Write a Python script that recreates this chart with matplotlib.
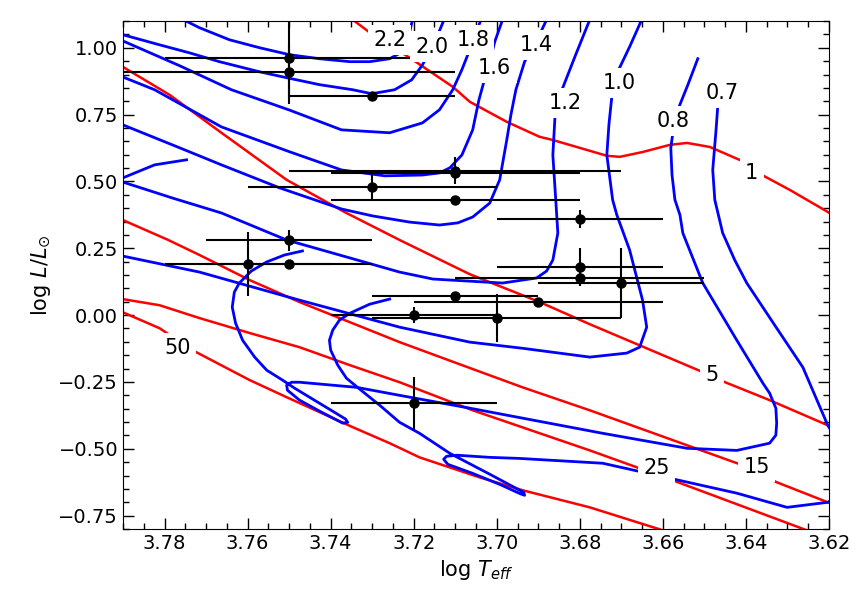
import numpy as np
import matplotlib
matplotlib.use("Agg")
import matplotlib.pyplot as plt
from matplotlib.ticker import MultipleLocator

# ---- evolutionary tracks (log Teff, log L/Lsun) ----
t22_x = [3.7776, 3.7764, 3.7716, 3.7644, 3.7571, 3.7499, 3.7427, 3.7354, 3.7306, 3.7258, 3.7227, 3.7214, 3.7203, 3.7198]
t22_y = [1.142, 1.112, 1.075, 1.030, 1.000, 0.974, 0.959, 0.948, 0.948, 0.959, 0.985, 1.030, 1.105, 1.142]

t20_x = [3.7933, 3.7901, 3.7812, 3.7740, 3.7668, 3.7571, 3.7506, 3.7427, 3.7347, 3.7301, 3.7246, 3.7205,
         3.7179, 3.7162, 3.7142, 3.7125, 3.7121]
t20_y = [1.064, 1.049, 1.011, 0.981, 0.948, 0.910, 0.888, 0.862, 0.843, 0.828, 0.843, 0.880,
         0.936, 0.985, 1.049, 1.112, 1.142]

t18_x = [3.7933, 3.7901, 3.7764, 3.7639, 3.7501, 3.7374, 3.7258, 3.7179, 3.7138, 3.7106, 3.7084, 3.7065, 3.7051, 3.7034, 3.7029]
t18_y = [1.049, 1.026, 0.933, 0.843, 0.768, 0.693, 0.682, 0.719, 0.768, 0.843, 0.918, 0.993, 1.049, 1.124, 1.142]

t16_x = [3.7921, 3.7901, 3.7824, 3.7663, 3.7499, 3.7374, 3.7270, 3.7179, 3.7138, 3.7113, 3.7084, 3.7058,
         3.7043, 3.7031, 3.7017, 3.7005, 3.6986, 3.6979]
t16_y = [0.903, 0.891, 0.843, 0.704, 0.611, 0.543, 0.521, 0.524, 0.532, 0.551, 0.599, 0.693,
         0.805, 0.873, 0.948, 1.022, 1.105, 1.142]

t14_x = [3.7921, 3.7901, 3.7764, 3.7663, 3.7523, 3.7374, 3.7299, 3.7210, 3.7138, 3.7094, 3.7058, 3.7017,
         3.6993, 3.6976, 3.6966, 3.6954, 3.6933, 3.6916, 3.6897, 3.6880, 3.6875]
t14_y = [0.723, 0.712, 0.626, 0.562, 0.476, 0.397, 0.371, 0.348, 0.337, 0.345, 0.367, 0.419,
         0.506, 0.655, 0.749, 0.843, 0.948, 1.000, 1.049, 1.105, 1.135]

t12_x = [3.6769, 3.6776, 3.6810, 3.6843, 3.6860, 3.6865, 3.6858, 3.6853, 3.6865, 3.6880, 3.6904, 3.6986,
         3.7065, 3.7154, 3.7234, 3.7354, 3.7506, 3.7663, 3.7781, 3.7901, 3.7928, 3.7938, 3.7928, 3.7901,
         3.7824, 3.7747]
t12_y = [1.135, 1.105, 0.974, 0.843, 0.738, 0.599, 0.431, 0.307, 0.206, 0.165, 0.139, 0.120,
         0.127, 0.135, 0.161, 0.214, 0.281, 0.382, 0.438, 0.498, 0.506, 0.509, 0.511, 0.513,
         0.562, 0.581]

t10_x = [3.6641, 3.6651, 3.6680, 3.6709, 3.6723, 3.6730, 3.6735, 3.6721, 3.6711, 3.6680, 3.6649, 3.6639,
         3.6656, 3.6687, 3.6776, 3.6938, 3.7065, 3.7234, 3.7475, 3.7716, 3.7901, 3.7933]
t10_y = [1.135, 1.105, 1.004, 0.910, 0.817, 0.712, 0.599, 0.431, 0.375, 0.243, 0.056, -0.045,
         -0.120, -0.142, -0.157, -0.124, -0.101, -0.045, 0.056, 0.161, 0.221, 0.232]

t08_x = [3.6516, 3.6540, 3.6564, 3.6576, 3.6581, 3.6578, 3.6571, 3.6559, 3.6552, 3.6504, 3.6422, 3.6359,
         3.6343, 3.6328, 3.6326, 3.6328, 3.6343, 3.6422, 3.6542, 3.6745, 3.7065, 3.7234, 3.7338, 3.7475,
         3.7494, 3.7506, 3.7504, 3.7475, 3.7427, 3.7371, 3.7359, 3.7364, 3.7403, 3.7451, 3.7487, 3.7516,
         3.7554, 3.7583, 3.7612, 3.7629, 3.7637, 3.7632, 3.7620, 3.7591, 3.7554, 3.7511, 3.7468]
t08_y = [0.959, 0.861, 0.768, 0.682, 0.625, 0.524, 0.431, 0.375, 0.307, 0.120, -0.094, -0.255,
         -0.292, -0.348, -0.404, -0.449, -0.479, -0.506, -0.498, -0.442, -0.348, -0.300, -0.270, -0.251,
         -0.251, -0.262, -0.281, -0.318, -0.359, -0.404, -0.401, -0.389, -0.352, -0.307, -0.273, -0.243,
         -0.206, -0.157, -0.094, -0.030, 0.030, 0.086, 0.120, 0.165, 0.199, 0.225, 0.240]

t07_x = [3.6468, 3.6472, 3.6480, 3.6475, 3.6456, 3.6427, 3.6398, 3.6331, 3.6263, 3.6229, 3.6203, 3.6174,
         3.6162, 3.6174, 3.6203, 3.6301, 3.6422, 3.6745, 3.6945, 3.7017, 3.7096, 3.7121, 3.7128, 3.7118,
         3.7058, 3.6993, 3.6945, 3.6933, 3.6935, 3.7017, 3.7113, 3.7186, 3.7234, 3.7282, 3.7330, 3.7362,
         3.7383, 3.7400, 3.7403, 3.7395, 3.7379, 3.7354, 3.7306, 3.7258]
t07_y = [0.779, 0.693, 0.543, 0.431, 0.307, 0.206, 0.120, -0.037, -0.195, -0.318, -0.412, -0.487,
         -0.580, -0.674, -0.700, -0.719, -0.666, -0.554, -0.536, -0.532, -0.524, -0.528, -0.539, -0.558,
         -0.592, -0.633, -0.667, -0.674, -0.663, -0.595, -0.517, -0.442, -0.401, -0.337, -0.277, -0.236,
         -0.187, -0.131, -0.094, -0.056, -0.019, 0.007, 0.041, 0.060]

tracks = [(t22_x, t22_y), (t20_x, t20_y), (t18_x, t18_y), (t16_x, t16_y), (t14_x, t14_y),
          (t12_x, t12_y), (t10_x, t10_y), (t08_x, t08_y), (t07_x, t07_y)]
mass_labels = ["2.2", "2.0", "1.8", "1.6", "1.4", "1.2", "1.0", "0.8", "0.7"]
mass_lab_x = [3.7258, 3.7157, 3.7058, 3.7005, 3.6904, 3.6836, 3.6704, 3.6576, 3.6458]
mass_lab_y = [1.030, 1.004, 1.030, 0.925, 1.011, 0.794, 0.869, 0.727, 0.831]

# ---- isochrones (Myr) ----
i1_x = [3.7379, 3.7347, 3.7299, 3.7210, 3.7106, 3.7065, 3.6976, 3.6897, 3.6865, 3.6735, 3.6704, 3.6649,
        3.6583, 3.6542, 3.6487, 3.6398, 3.6366, 3.6294, 3.6203, 3.6174]
i1_y = [1.142, 1.105, 1.049, 0.963, 0.854, 0.798, 0.723, 0.667, 0.655, 0.596, 0.592, 0.610,
        0.637, 0.644, 0.629, 0.569, 0.528, 0.468, 0.386, 0.356]

i5_x = [3.7933, 3.7901, 3.7788, 3.7663, 3.7506, 3.7367, 3.7234, 3.7065, 3.6897, 3.6776, 3.6504, 3.6463,
        3.6343, 3.6203, 3.6174]
i5_y = [0.955, 0.929, 0.824, 0.682, 0.506, 0.386, 0.281, 0.153, 0.049, -0.034, -0.213, -0.243,
        -0.318, -0.412, -0.430]

i15_x = [3.7933, 3.7901, 3.7791, 3.7716, 3.7595, 3.7475, 3.7234, 3.7096, 3.6938, 3.6776, 3.6407, 3.6326,
         3.6203, 3.6174]
i15_y = [0.378, 0.356, 0.281, 0.225, 0.131, 0.049, -0.101, -0.180, -0.270, -0.356, -0.562, -0.625,
         -0.700, -0.719]

i25_x = [3.7933, 3.7901, 3.7812, 3.7716, 3.7595, 3.7475, 3.7354, 3.7234, 3.7058, 3.6776, 3.6656, 3.6576,
         3.6253, 3.6198]
i25_y = [0.067, 0.060, 0.037, -0.011, -0.067, -0.120, -0.187, -0.251, -0.356, -0.506, -0.573, -0.618,
         -0.805, -0.835]

i50_x = [3.7933, 3.7901, 3.7812, 3.7733, 3.7595, 3.7506, 3.7347, 3.7258, 3.7186, 3.7041, 3.6938, 3.6776,
         3.6600, 3.6559]
i50_y = [0.034, 0.011, -0.049, -0.131, -0.243, -0.307, -0.419, -0.479, -0.532, -0.607, -0.655, -0.719,
         -0.805, -0.824]

isochrones = [(i1_x, i1_y), (i5_x, i5_y), (i15_x, i15_y), (i25_x, i25_y), (i50_x, i50_y)]
age_labels = ["1", "5", "15", "25", "50"]
age_lab_x = [3.6386, 3.6482, 3.6374, 3.6615, 3.7769]
age_lab_y = [0.532, -0.225, -0.569, -0.573, -0.124]

# ---- stars ----
star_T = [3.75, 3.75, 3.73, 3.71, 3.71, 3.73, 3.71, 3.75, 3.76, 3.75, 3.68, 3.68, 3.68, 3.67, 3.69, 3.71, 3.72, 3.70, 3.72]
star_L = [0.96, 0.91, 0.82, 0.54, 0.53, 0.48, 0.43, 0.28, 0.19, 0.19, 0.36, 0.18, 0.14, 0.12, 0.05, 0.07, 0.00, -0.01, -0.33]
err_T = [0.03, 0.04, 0.02, 0.04, 0.03, 0.03, 0.03, 0.02, 0.02, 0.02, 0.02, 0.02, 0.03, 0.02, 0.03, 0.02, 0.02, 0.03, 0.02]
err_L = [0.17, 0.10, 0.01, 0.05, 0.02, 0.05, 0.0, 0.04, 0.12, 0.0, 0.035, 0.07, 0.03, 0.13, 0.01, 0.0, 0.03, 0.09, 0.10]

fig = plt.figure(figsize=(8.64, 5.94), dpi=100)
ax = fig.add_axes([0.1424, 0.1094, 0.8171, 0.8552])

for x, y in isochrones:
    ax.plot(x, y, color="red", lw=1.8, zorder=2, solid_joinstyle="round")
for x, y in tracks:
    ax.plot(x, y, color="blue", lw=2.0, zorder=2, solid_joinstyle="round")

ax.errorbar(star_T, star_L, xerr=err_T, yerr=err_L, fmt="o", color="black",
            ms=6.5, elinewidth=1.5, capsize=0, zorder=4)

box = dict(boxstyle="square,pad=0.25", fc="white", ec="none")
for lab, x, y in zip(mass_labels, mass_lab_x, mass_lab_y):
    ax.text(x, y, lab, fontsize=15, ha="center", va="center", bbox=box, zorder=5)
for lab, x, y in zip(age_labels, age_lab_x, age_lab_y):
    ax.text(x, y, lab, fontsize=15, ha="center", va="center", bbox=box, zorder=5)

ax.set_xlim(3.79, 3.62)
ax.set_ylim(-0.8, 1.1)
ax.xaxis.set_major_locator(MultipleLocator(0.02))
ax.xaxis.set_minor_locator(MultipleLocator(0.005))
ax.yaxis.set_major_locator(MultipleLocator(0.25))
ax.yaxis.set_minor_locator(MultipleLocator(0.05))
ax.tick_params(which="both", direction="in", top=True, right=True, labelsize=14)
ax.tick_params(which="major", length=8, width=1)
ax.tick_params(which="minor", length=4, width=1)

ax.set_xlabel(r"log $T_{eff}$", fontsize=15)
ax.set_ylabel(r"log $L/L_{\odot}$", fontsize=15)

fig.savefig("out.png", dpi=100)
